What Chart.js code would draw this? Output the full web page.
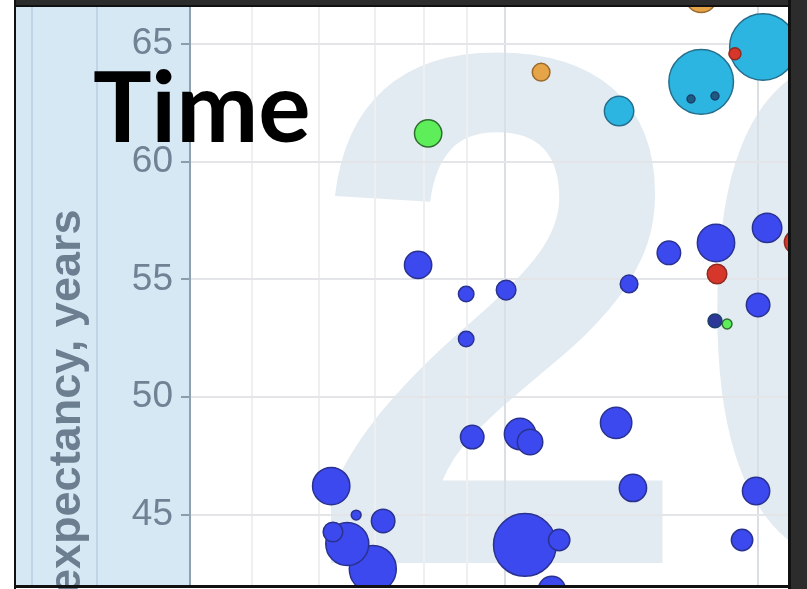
<!DOCTYPE html>
<html>
<head>
<meta charset="utf-8">
<script src="https://cdn.jsdelivr.net/npm/chart.js@4.4.0/dist/chart.umd.min.js"></script>
<style>
	html, body { margin: 0; padding: 0; background: #fff; }
	#wrap { width: 807px; height: 589px; position: relative; }
</style>
</head>
<body>
<div id="wrap"><canvas id="grafico"></canvas></div>
<script>
// renda por pessoa (x, log), expectativa de vida (y), populacao em milhoes (tamanho)
var rendaAfrica = [1056, 696, 649, 1783, 621, 1042, 1356, 2051, 788, 1420, 1990, 1137, 1071, 1567, 2001, 914, 716, 1915, 1160, 1003, 624, 1405, 899, 899, 665];
var vidaAfrica = [43.73, 42.71, 43.77, 56.55, 46.23, 48.44, 48.91, 57.19, 55.62, 46.15, 46.02, 41.82, 48.10, 56.13, 53.92, 48.31, 44.75, 43.94, 43.94, 54.55, 44.28, 54.81, 54.38, 52.47, 45.0];
var popAfrica = [164, 92, 77, 58, 58, 41, 41, 36, 31, 31, 31, 31, 27, 23, 23, 23, 23, 19, 19, 16, 16, 13, 10, 10, 4];

var rendaAsiaSul = [2028, 1712, 1367];
var vidaAsiaSul = [64.87, 63.39, 62.15];
var popAsiaSul = [185, 174, 36];

var rendaEuropa = [1712, 1104];
var vidaEuropa = [67.0, 63.8];
var popEuropa = [41, 13];

var rendaOriente = [810, 1838];
var vidaOriente = [61.2, 53.11];
var popOriente = [31, 4];

var rendaLeste = [2221, 1788, 1878];
var vidaLeste = [56.59, 55.23, 64.58];
var popLeste = [23, 16, 6];

var rendaPequenos = [1665, 1778, 1778];
var vidaPequenos = [62.66, 62.79, 53.24];
var popPequenos = [2.6, 2.6, 8];

var ticksY = [45, 50, 55, 60, 65];
var gradeX = [500, 600, 700, 800, 900, 1000, 2000];

function raio(p) {
	return 2.45 * Math.sqrt(p);
}

function montar(xs, ys, pops) {
	return xs.map(function (x, i) {
		return { x: x, y: ys[i], r: raio(pops[i]) };
	});
}

function semPadding(s) {
	s.paddingTop = 0;
	s.paddingBottom = 0;
	s.paddingLeft = 0;
	s.paddingRight = 0;
}

var fundo = {
	id: "fundo",
	beforeDraw: function (chart) {
		var ctx = chart.ctx;
		var area = chart.chartArea;
		ctx.save();
		// painel azul do eixo y
		ctx.fillStyle = "#d7e8f5";
		ctx.fillRect(16, 6, area.left - 16, area.bottom - 6);
		ctx.strokeStyle = "#bfd5e7";
		ctx.lineWidth = 2;
		[32, 97].forEach(function (x) {
			ctx.beginPath();
			ctx.moveTo(x, 6);
			ctx.lineTo(x, area.bottom);
			ctx.stroke();
		});
		// ano ao fundo
		ctx.beginPath();
		ctx.rect(area.left, area.top, area.right - area.left, area.bottom - area.top);
		ctx.clip();
		ctx.translate(307, 563);
		ctx.scale(0.97, 1.03);
		ctx.fillStyle = "#e3ebf2";
		ctx.font = 'bold 710px "Liberation Sans"';
		ctx.textBaseline = "alphabetic";
		ctx.fillText("20", 0, 0);
		ctx.restore();
	},
	afterDraw: function (chart) {
		var ctx = chart.ctx;
		ctx.save();
		// titulo do eixo y
		ctx.translate(80, 448);
		ctx.rotate(-Math.PI / 2);
		ctx.fillStyle = "#6b7f91";
		ctx.font = 'bold 45px "Liberation Sans"';
		ctx.textAlign = "center";
		ctx.fillText("Life expectancy, years", 0, 0);
		ctx.restore();

		ctx.save();
		ctx.fillStyle = "#000";
		ctx.font = 'bold 98px "Lato"';
		ctx.fillText("Time", 93, 142);
		// moldura
		ctx.fillStyle = "#2c2c2c";
		ctx.fillRect(14, 0, 793, 5);
		ctx.fillRect(791, 0, 16, 589);
		ctx.fillStyle = "#111";
		ctx.fillRect(14, 5, 777, 2);
		ctx.fillRect(14, 0, 2, 589);
		ctx.fillRect(788, 0, 3, 589);
		ctx.fillRect(14, 585, 777, 3);
		ctx.restore();
	},
};

function conjunto(nome, xs, ys, pops, cor, borda) {
	return {
		label: nome,
		data: montar(xs, ys, pops),
		backgroundColor: cor,
		borderColor: borda,
		borderWidth: 1.5,
		clip: 0,
	};
}

var config = {
	type: "bubble",
	data: {
		datasets: [
			conjunto("pequenos", rendaPequenos, vidaPequenos, popPequenos, ["#1e5a82", "#1e5a82", "#2d3798"], "#1b3f6a"),
			conjunto("East Asia & Pacific", rendaLeste, vidaLeste, popLeste, "#d7372b", "#8e2a22"),
			conjunto("Middle East & North Africa", rendaOriente, vidaOriente, popOriente, "#5eee5a", "#2f6e30"),
			conjunto("Europe & Central Asia", rendaEuropa, vidaEuropa, popEuropa, "#e6a449", "#9a6a2e"),
			conjunto("South Asia", rendaAsiaSul, vidaAsiaSul, popAsiaSul, "#2db5e2", "#256e8c"),
			conjunto("Sub-Saharan Africa", rendaAfrica, vidaAfrica, popAfrica, "#3b49ef", "#2a3290"),
		],
	},
	options: {
		responsive: true,
		maintainAspectRatio: false,
		animation: false,
		layout: { autoPadding: false, padding: { top: 6, right: 19, bottom: 4, left: 0 } },
		scales: {
			x: {
				type: "logarithmic",
				min: 421.7,
				max: 2172,
				afterBuildTicks: function (s) {
					s.ticks = gradeX.map(function (v) { return { value: v }; });
				},
				afterFit: function (s) {
					s.height = 0;
					semPadding(s);
				},
				ticks: { display: false },
				border: { display: false },
				grid: {
					drawTicks: false,
					lineWidth: 2,
					color: function (c) {
						return c.tick && (c.tick.value === 1000 || c.tick.value === 2000) ? "#d9dfe4" : "#eeeff1";
					},
				},
			},
			y: {
				min: 42.03,
				max: 66.61,
				afterBuildTicks: function (s) {
					s.ticks = ticksY.map(function (v) { return { value: v }; });
				},
				afterFit: function (s) {
					s.width = 190;
					semPadding(s);
				},
				ticks: {
					color: "#6f8395",
					padding: 8,
					font: { family: "Liberation Sans", size: 37 },
				},
				border: { color: "#8fa1b0", width: 2 },
				grid: {
					color: "#e3e5e8",
					lineWidth: 2,
					tickColor: "#8c9cab",
					tickLength: 9,
				},
			},
		},
		plugins: {
			legend: { display: false },
			tooltip: { enabled: false },
		},
	},
	plugins: [fundo],
};

var myChart = new Chart(document.getElementById("grafico"), config);
</script>
</body>
</html>
